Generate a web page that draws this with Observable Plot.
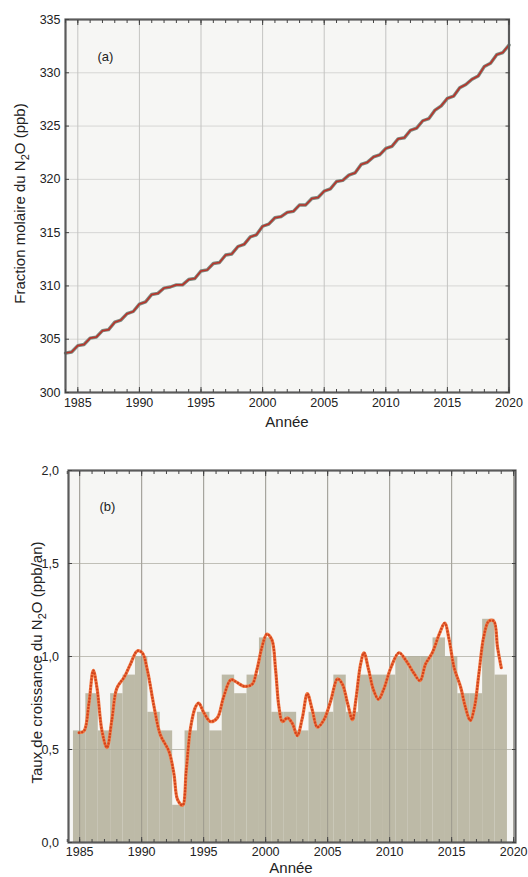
<!DOCTYPE html>
<html><head><meta charset="utf-8">
<script src="https://cdn.jsdelivr.net/npm/d3@7"></script>
<script src="https://cdn.jsdelivr.net/npm/@observablehq/plot@0.6"></script>
<style>
body{margin:0;background:#fff;font-family:"Liberation Sans",Arial,sans-serif;}
#chart{width:528px;}
svg{display:block;}
</style></head><body><div id="chart"></div>
<script>
// Panel (a): N2O mole fraction (ppb), one value every half year from 1984.0
const n2oStartYear = 1984;
const n2oHalfYearValues = [
  303.7, 303.8, 304.4, 304.5, 305.1, 305.2, 305.8, 305.9, 306.6, 306.8,
  307.4, 307.6, 308.3, 308.5, 309.2, 309.3, 309.8, 309.9, 310.1, 310.1,
  310.6, 310.7, 311.4, 311.5, 312.1, 312.2, 312.9, 313.0, 313.7, 313.9,
  314.6, 314.8, 315.6, 315.8, 316.4, 316.5, 316.9, 317.0, 317.6, 317.6,
  318.2, 318.3, 318.9, 319.1, 319.8, 319.9, 320.4, 320.6, 321.4, 321.6,
  322.1, 322.3, 322.9, 323.1, 323.8, 323.9, 324.6, 324.8, 325.5, 325.7,
  326.5, 326.9, 327.6, 327.8, 328.6, 328.9, 329.4, 329.7, 330.6, 330.9,
  331.7, 331.9, 332.6
];

// Panel (b): growth rate curve (ppb/an)
const growthTimes = [
  1984.95, 1985.35, 1985.75, 1986.1, 1986.4, 1986.8, 1987.2, 1987.6, 1988.0, 1988.6,
  1989.1, 1989.65, 1990.05, 1990.45, 1991.0, 1991.5, 1992.2, 1992.6, 1992.9, 1993.3,
  1993.6, 1993.95, 1994.35, 1994.6, 1995.0, 1995.55, 1996.1, 1996.6, 1997.2, 1997.7,
  1998.25, 1998.9, 1999.3, 1999.7, 2000.1, 2000.5, 2000.8, 2001.07, 2001.35, 2001.75,
  2002.15, 2002.55, 2002.96, 2003.36, 2003.77, 2004.17, 2004.7, 2005.24, 2005.8, 2006.2,
  2006.6, 2007.0, 2007.26, 2007.66, 2007.93, 2008.3, 2008.7, 2009.1, 2009.5, 2010.1,
  2010.75, 2011.3, 2011.96, 2012.45, 2012.9, 2013.44, 2014.0, 2014.44, 2014.8, 2015.2,
  2015.73, 2016.1, 2016.5, 2016.85, 2017.2, 2017.6, 2018.0, 2018.4, 2018.7, 2019.0
];
const growthValues = [
  0.59, 0.60, 0.75, 0.925, 0.83, 0.60, 0.51, 0.66, 0.83, 0.89,
  0.96, 1.03, 1.02, 0.93, 0.73, 0.58, 0.49, 0.37, 0.23, 0.20,
  0.39, 0.62, 0.73, 0.75, 0.70, 0.65, 0.67, 0.78, 0.875, 0.86,
  0.84, 0.85, 0.93, 1.05, 1.12, 1.09, 0.93, 0.73, 0.65, 0.67,
  0.64, 0.575, 0.67, 0.80, 0.71, 0.62, 0.66, 0.76, 0.88, 0.85,
  0.75, 0.66, 0.76, 0.96, 1.02, 0.93, 0.82, 0.77, 0.82, 0.94,
  1.02, 0.98, 0.91, 0.87, 0.96, 1.02, 1.12, 1.18, 1.09, 0.94,
  0.835, 0.73, 0.656, 0.73, 0.91, 1.11, 1.19, 1.19, 1.05, 0.94
];

// Panel (b): annual growth-rate bars
const barYears = [
  1985, 1986, 1987, 1988, 1989, 1990, 1991, 1992, 1993, 1994,
  1995, 1996, 1997, 1998, 1999, 2000, 2001, 2002, 2003, 2004,
  2005, 2006, 2007, 2008, 2009, 2010, 2011, 2012, 2013, 2014,
  2015, 2016, 2017, 2018, 2019
];
const barValues = [
  0.6, 0.8, 0.6, 0.8, 0.9, 1.0, 0.7, 0.6, 0.2, 0.6,
  0.7, 0.6, 0.9, 0.8, 0.9, 1.1, 0.7, 0.7, 0.6, 0.7,
  0.7, 0.9, 0.7, 0.9, 0.9, 0.9, 1.0, 1.0, 1.0, 1.1,
  1.0, 0.8, 0.8, 1.2, 0.9
];

// Ticks
const xTicks = [1985, 1990, 1995, 2000, 2005, 2010, 2015, 2020];
const xMinorTicks = d3.range(1984, 2021);
const yTicksA = [300, 305, 310, 315, 320, 325, 330, 335];
const yTicksB = [0, 0.5, 1.0, 1.5, 2.0];

const n2o = n2oHalfYearValues.map((v, i) => ({t: n2oStartYear + i / 2, v}));
const growth = growthTimes.map((t, i) => ({t, v: growthValues[i]}));
const bars = barYears.map((y, i) => ({y, v: barValues[i]}));

const FONT = "Liberation Sans, Arial, Helvetica, sans-serif";
const commaFmt = d => d.toFixed(1).replace(".", ",");

function addTitles(svg, {yx, yy, xx, xy, pre, post}) {
  const s = d3.select(svg);
  s.append("text")
    .attr("x", xx).attr("y", xy)
    .attr("text-anchor", "middle")
    .attr("fill", "#222")
    .style("font", `15px ${FONT}`)
    .text("Année");
  const t = s.append("text")
    .attr("transform", `translate(${yx},${yy}) rotate(-90)`)
    .attr("text-anchor", "middle")
    .attr("fill", "#222")
    .style("font", `15px ${FONT}`);
  t.append("tspan").text(pre);
  t.append("tspan").attr("dy", 4).style("font-size", "11px").text("2");
  t.append("tspan").attr("dy", -4).text(post);
}

// ---------- Panel (a)
const chartA = Plot.plot({
  width: 528, height: 440,
  marginLeft: 65, marginRight: 19.5, marginTop: 19, marginBottom: 48,
  style: {fontFamily: FONT, fontSize: "12.5px", background: "#fff", color: "#222"},
  x: {domain: [1984, 2020], axis: null},
  y: {domain: [300, 335], axis: null},
  marks: [
    Plot.frame({fill: "#f6f6f4", stroke: "none"}),
    Plot.gridY(yTicksA, {stroke: "#d6d6d4", strokeOpacity: 1}),
    Plot.gridX(xTicks, {stroke: "#c4c4c2", strokeOpacity: 1}),
    Plot.line(n2o, {x: "t", y: "v", stroke: "#7d8a80", strokeWidth: 3.4}),
    Plot.line(n2o, {x: "t", y: "v", stroke: "#b8332a", strokeWidth: 1.6}),
    Plot.frame({stroke: "#5b5b5b", strokeWidth: 2.2}),
    Plot.axisX(xMinorTicks, {anchor: "bottom", tickSize: -3, fill: "none", stroke: "#444", label: null}),
    Plot.axisX(xMinorTicks, {anchor: "top", tickSize: -3, fill: "none", stroke: "#444", label: null}),
    Plot.axisX(xTicks, {anchor: "bottom", tickSize: -5, fill: "none", stroke: "#444", label: null}),
    Plot.axisX(xTicks, {anchor: "top", tickSize: -5, fill: "none", stroke: "#444", label: null}),
    Plot.axisX(xTicks, {anchor: "bottom", tickSize: 0, tickPadding: 6, label: null, tickFormat: d => String(d)}),
    Plot.axisY(yTicksA, {anchor: "left", tickSize: -4, fill: "none", stroke: "#444", label: null}),
    Plot.axisY(yTicksA, {anchor: "right", tickSize: -4, fill: "none", stroke: "#444", label: null}),
    Plot.axisY(yTicksA, {anchor: "left", tickSize: 0, tickPadding: 5, label: null}),
    Plot.text(["(a)"], {frameAnchor: "top-left", dx: 32, dy: 32, textAnchor: "start", fontSize: 13, fill: "#222"})
  ]
});
addTitles(chartA, {yx: 25, yy: 203.5, xx: 287, xy: 426.5, pre: "Fraction molaire du N", post: "O (ppb)"});

// ---------- Panel (b)
const chartB = Plot.plot({
  width: 528, height: 437,
  marginLeft: 68, marginRight: 13, marginTop: 30, marginBottom: 35,
  style: {fontFamily: FONT, fontSize: "12.5px", background: "#fff", color: "#222"},
  x: {domain: [1984.1, 2020.15], axis: null},
  y: {domain: [0, 2], axis: null},
  marks: [
    Plot.frame({fill: "#f6f6f4", stroke: "none"}),
    Plot.gridY(yTicksB, {stroke: "#d6d6d4", strokeOpacity: 1}),
    Plot.gridX(xTicks, {stroke: "#c4c4c2", strokeOpacity: 1}),
    Plot.rectY(bars, {x1: d => d.y - 0.5, x2: d => d.y + 0.5, y: "v", fill: "#bdbaa7"}),
    Plot.gridX(xTicks, {stroke: "#8e8c82", strokeOpacity: 0.7}),
    Plot.gridY(yTicksB, {stroke: "#a9a79a", strokeOpacity: 0.5}),
    Plot.line(growth, {x: "t", y: "v", curve: "catmull-rom", stroke: "#f27a45", strokeWidth: 3.2}),
    Plot.line(growth, {x: "t", y: "v", curve: "catmull-rom", stroke: "#d2431c", strokeWidth: 2.4, strokeDasharray: "0 3.2", strokeLinecap: "round"}),
    Plot.frame({stroke: "#5b5b5b", strokeWidth: 2.2}),
    Plot.axisX(xMinorTicks, {anchor: "bottom", tickSize: -3, fill: "none", stroke: "#444", label: null}),
    Plot.axisX(xMinorTicks, {anchor: "top", tickSize: -3, fill: "none", stroke: "#444", label: null}),
    Plot.axisX(xTicks, {anchor: "bottom", tickSize: -5, fill: "none", stroke: "#444", label: null}),
    Plot.axisX(xTicks, {anchor: "top", tickSize: -5, fill: "none", stroke: "#444", label: null}),
    Plot.axisX(xTicks, {anchor: "bottom", tickSize: 0, tickPadding: 5, label: null, tickFormat: d => String(d)}),
    Plot.axisY(yTicksB, {anchor: "left", tickSize: -4, fill: "none", stroke: "#444", label: null}),
    Plot.axisY(yTicksB, {anchor: "right", tickSize: -4, fill: "none", stroke: "#444", label: null}),
    Plot.axisY(yTicksB, {anchor: "left", tickSize: 0, tickPadding: 9.5, label: null, tickFormat: commaFmt}),
    Plot.text(["(b)"], {frameAnchor: "top-left", dx: 31, dy: 31.5, textAnchor: "start", fontSize: 13, fill: "#222"})
  ]
});
addTitles(chartB, {yx: 42, yy: 222.5, xx: 291, xy: 433, pre: "Taux de croissance du N", post: "O (ppb/an)"});

document.getElementById("chart").append(chartA, chartB);
</script>
</body></html>
